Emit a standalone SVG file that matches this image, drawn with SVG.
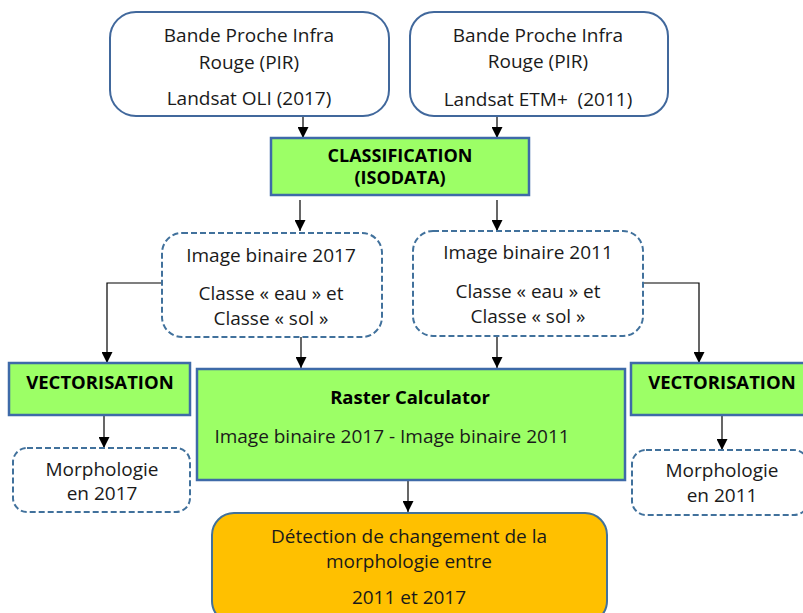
<svg xmlns="http://www.w3.org/2000/svg" width="803" height="613" viewBox="0 0 803 613">
<style>
.t{font-family:"Open Sans","Noto Sans","Liberation Sans",sans-serif;font-size:19px;fill:#1a1a1a;text-anchor:middle}
.b{font-weight:bold;fill:#000;font-size:18.5px}
.solid{fill:#fff;stroke:#41689c;stroke-width:2}
.dash{fill:#fff;stroke:#41719c;stroke-width:2;stroke-dasharray:6,3}
.green{fill:#9cff66;stroke:#3e6aa8;stroke-width:2.5}
.orange{fill:#ffc000;stroke:#41719c;stroke-width:2}
.c{fill:none;stroke:#000;stroke-width:1.2;marker-end:url(#ah)}
</style>
<defs>
<marker id="ah" viewBox="0 0 10 10" refX="10" refY="5" markerWidth="11" markerHeight="11" markerUnits="userSpaceOnUse" orient="auto">
<path d="M0,0 L10,5 L0,10 z" fill="#000"/>
</marker>
</defs>
<rect width="803" height="613" fill="#fff"/>
<g id="connectors">
<path class="c" d="M303,107 V138"/>
<path class="c" d="M497,110 V138"/>
<path class="c" d="M300,200 V231"/>
<path class="c" d="M497,200 V231"/>
<path class="c" d="M162,283 H107 V363"/>
<path class="c" d="M643,283 H699 V363"/>
<path class="c" d="M301,337 V368"/>
<path class="c" d="M497,336 V368"/>
<path class="c" d="M104,415 V448"/>
<path class="c" d="M722,415 V450"/>
<path class="c" d="M408,480 V512"/>
</g>
<g id="pir2017">
<rect class="solid" x="110" y="12" width="279" height="104" rx="26"/>
<text class="t" x="249" y="42">Bande Proche Infra</text>
<text class="t" x="249" y="69">Rouge (PIR)</text>
<text class="t" x="249" y="105">Landsat OLI (2017)</text>
</g>
<g id="pir2011">
<rect class="solid" x="410" y="12" width="258" height="104" rx="24"/>
<text class="t" x="538" y="42">Bande Proche Infra</text>
<text class="t" x="538" y="68">Rouge (PIR)</text>
<text class="t" x="538" y="106" style="white-space:pre">Landsat ETM+  (2011)</text>
</g>
<g id="classification">
<rect class="green" x="271" y="138" width="258" height="57"/>
<text class="t b" x="400" y="162" style="font-size:18px">CLASSIFICATION</text>
<text class="t b" x="400" y="184" style="font-size:18px">(ISODATA)</text>
</g>
<g id="binaire2017">
<rect class="dash" x="162" y="233" width="220" height="104" rx="20"/>
<text class="t" x="271" y="262">Image binaire 2017</text>
<text class="t" x="271" y="300">Classe « eau » et</text>
<text class="t" x="271" y="325">Classe « sol »</text>
</g>
<g id="binaire2011">
<rect class="dash" x="413" y="231" width="230" height="105" rx="20"/>
<text class="t" x="528" y="259">Image binaire 2011</text>
<text class="t" x="528" y="298">Classe « eau » et</text>
<text class="t" x="528" y="323">Classe « sol »</text>
</g>
<g id="vect2017">
<rect class="green" x="9" y="363" width="181" height="52"/>
<text class="t b" x="100" y="389">VECTORISATION</text>
</g>
<g id="vect2011">
<rect class="green" x="631" y="363" width="180" height="52"/>
<text class="t b" x="722" y="389">VECTORISATION</text>
</g>
<g id="raster">
<rect class="green" x="197" y="369" width="428" height="111"/>
<text class="t b" x="410" y="404">Raster Calculator</text>
<text class="t" x="392" y="443">Image binaire 2017 - Image binaire 2011</text>
</g>
<g id="morpho2017">
<rect class="dash" x="13" y="448" width="177" height="64" rx="14"/>
<text class="t" x="102" y="476">Morphologie</text>
<text class="t" x="102" y="500">en 2017</text>
</g>
<g id="morpho2011">
<rect class="dash" x="632" y="450" width="176" height="65" rx="14"/>
<text class="t" x="722" y="477">Morphologie</text>
<text class="t" x="722" y="502">en 2011</text>
</g>
<g id="detection">
<rect class="orange" x="212" y="513" width="395" height="110" rx="22"/>
<text class="t" x="409" y="543">Détection de changement de la</text>
<text class="t" x="409" y="568">morphologie entre</text>
<text class="t" x="409" y="604">2011 et 2017</text>
</g>
</svg>
